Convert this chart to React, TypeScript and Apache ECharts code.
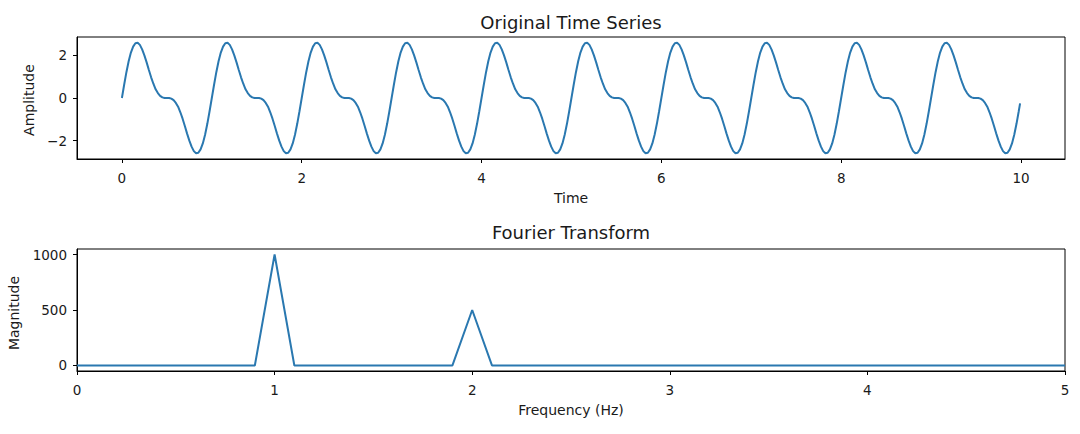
import React, { useEffect, useRef } from "react";
import * as echarts from "echarts";

const CYCLE_VALUES = [
  0, 0.62, 1.21, 1.72, 2.13, 2.41, 2.57, 2.59, 2.49, 2.28,
  2.0, 1.67, 1.31, 0.97, 0.67, 0.41, 0.23, 0.1, 0.03, 0.0,
  0, -0.0, -0.03, -0.1, -0.23, -0.41, -0.67, -0.97, -1.31, -1.67,
  -2.0, -2.28, -2.49, -2.59, -2.57, -2.41, -2.13, -1.72, -1.21, -0.62,
];
const SAMPLE_STEP = 0.025;
const CYCLE_COUNT = 10;
const LAST_POINT: [number, number] = [9.99, -0.25];

// Fourier magnitudes, one bin every 0.1 Hz from 0 to 5 Hz
const FFT_STEP = 0.1;
const FFT_MAGNITUDES = [
  0, 0, 0, 0, 0, 0, 0, 0, 0, 0,
  1000, 0, 0, 0, 0, 0, 0, 0, 0, 0,
  500, 0, 0, 0, 0, 0, 0, 0, 0, 0,
  0, 0, 0, 0, 0, 0, 0, 0, 0, 0,
  0, 0, 0, 0, 0, 0, 0, 0, 0, 0,
  0,
];

const TIME_TICKS = [0, 2, 4, 6, 8, 10];
const AMP_TICKS = [-2, 0, 2];
const FREQ_TICKS = [0, 1, 2, 3, 4, 5];
const MAG_TICKS = [0, 500, 1000];

const TITLES = ["Original Time Series", "Fourier Transform"];
const X_NAMES = ["Time", "Frequency (Hz)"];
const Y_NAMES = ["Amplitude", "Magnitude"];

const LINE_COLOR = "#2a78b0";
const TEXT_COLOR = "#1a1a1a";
const FONT = "DejaVu Sans";

function buildTimeSeries(): [number, number][] {
  const out: [number, number][] = [];
  for (let c = 0; c < CYCLE_COUNT; c++) {
    CYCLE_VALUES.forEach((v, k) => {
      out.push([Math.round((c + k * SAMPLE_STEP) * 1000) / 1000, v]);
    });
  }
  out.push(LAST_POINT);
  return out;
}

function buildFft(): [number, number][] {
  return FFT_MAGNITUDES.map((m, i) => [Math.round(i * FFT_STEP * 10) / 10, m]);
}

const minusFmt = (v: number) => (v < 0 ? "\u2212" + Math.abs(v) : String(v));

export default function App() {
  const ref = useRef<HTMLDivElement>(null);
  useEffect(() => {
    if (!ref.current) return;
    const chart = echarts.init(ref.current, undefined, { renderer: "svg" });
    const axisLine = { show: true, onZero: false, lineStyle: { color: "#000", width: 1 } };
    const axisTick = (vals: number[]) => ({
      show: true,
      inside: false,
      length: 4,
      customValues: vals,
      lineStyle: { color: "#000", width: 1 },
    });
    const axisLabel = (vals: number[], margin: number, fmt?: (v: number) => string) => ({
      customValues: vals,
      margin,
      fontSize: 13.5,
      fontFamily: FONT,
      color: TEXT_COLOR,
      formatter: fmt,
    });
    const textEl = (text: string, x: number, y: number, size: number, rot = 0) => ({
      type: "text",
      x,
      y,
      rotation: rot,
      style: {
        text,
        fontSize: size,
        fontFamily: FONT,
        fill: TEXT_COLOR,
        textAlign: "center",
        textVerticalAlign: "middle",
      },
    });
    chart.setOption({
      animation: false,
      backgroundColor: "#fff",
      grid: [
        { left: 77, right: 15, top: 37, height: 122, show: true, borderColor: "#000", borderWidth: 1, containLabel: false, outerBoundsMode: "none" },
        { left: 77, right: 15, top: 249, height: 122, show: true, borderColor: "#000", borderWidth: 1, containLabel: false, outerBoundsMode: "none" },
      ],
      xAxis: [
        {
          gridIndex: 0, type: "value", min: -0.4995, max: 10.4895,
          axisLine, axisTick: axisTick(TIME_TICKS), axisLabel: axisLabel(TIME_TICKS, 12),
          splitLine: { show: false },
        },
        {
          gridIndex: 1, type: "value", min: 0, max: 5,
          axisLine, axisTick: axisTick(FREQ_TICKS), axisLabel: axisLabel(FREQ_TICKS, 12),
          splitLine: { show: false },
        },
      ],
      yAxis: [
        {
          gridIndex: 0, type: "value", min: -2.86, max: 2.86,
          axisLine, axisTick: axisTick(AMP_TICKS), axisLabel: axisLabel(AMP_TICKS, 10, minusFmt),
          splitLine: { show: false },
        },
        {
          gridIndex: 1, type: "value", min: -50, max: 1050,
          axisLine, axisTick: axisTick(MAG_TICKS), axisLabel: axisLabel(MAG_TICKS, 10, minusFmt),
          splitLine: { show: false },
        },
      ],
      series: [
        {
          type: "line", xAxisIndex: 0, yAxisIndex: 0, data: buildTimeSeries(),
          showSymbol: false, symbol: "none", lineStyle: { color: LINE_COLOR, width: 2 },
        },
        {
          type: "line", xAxisIndex: 1, yAxisIndex: 1, data: buildFft(),
          showSymbol: false, symbol: "none", lineStyle: { color: LINE_COLOR, width: 2 },
        },
      ],
      graphic: [
        textEl(TITLES[0], 571, 22, 18),
        textEl(TITLES[1], 571, 232, 18),
        textEl(X_NAMES[0], 571, 198, 14),
        textEl(X_NAMES[1], 571, 410, 14),
        textEl(Y_NAMES[0], 29, 100, 14, Math.PI / 2),
        textEl(Y_NAMES[1], 14, 313, 14, Math.PI / 2),
      ],
    });
    return () => chart.dispose();
  }, []);
  return (
    <div
      ref={ref}
      style={{ position: "absolute", left: 0, top: 0, width: 1080, height: 434, background: "#fff" }}
    />
  );
}
